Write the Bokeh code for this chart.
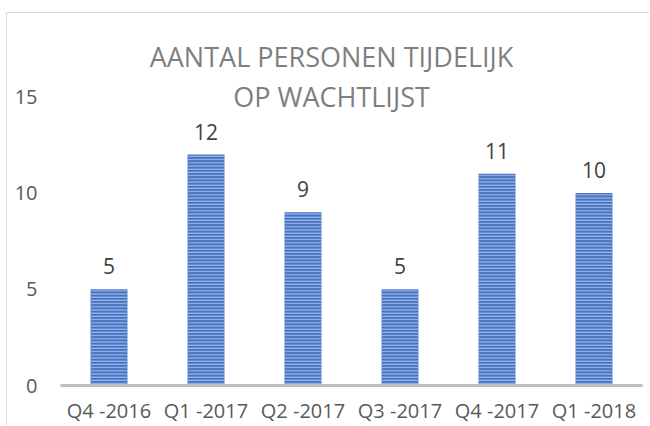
from bokeh.plotting import figure
from bokeh.models import ColumnDataSource, FixedTicker, Range1d, Label
from bokeh.core.properties import value
from bokeh.embed import file_html
from bokeh.resources import INLINE

# ---- data ----
categories = ["Q4 -2016", "Q1 -2017", "Q2 -2017", "Q3 -2017", "Q4 -2017", "Q1 -2018"]
counts = [5, 12, 9, 5, 11, 10]
count_labels = [str(v) for v in counts]
y_ticks = [0, 5, 10, 15]
title_lines = ["AANTAL PERSONEN TIJDELIJK", "OP WACHTLIJST"]

FONT = "Open Sans"

source = ColumnDataSource(dict(cat=categories, val=counts, lbl=count_labels))

p = figure(
    x_range=categories,
    y_range=Range1d(0, 19.33),
    width=643,
    height=413,
    output_backend="svg",
    toolbar_location=None,
    min_border_left=53,
    min_border_right=8,
    min_border_top=0,
    min_border_bottom=38,
)
p.styles = {
    "margin-left": "6px",
    "margin-top": "12px",
    "border-left": "1px solid #d9d9d9",
    "border-top": "1px solid #d9d9d9",
}
p.outline_line_color = None
p.background_fill_color = "white"
p.border_fill_color = "white"
p.xgrid.visible = False
p.ygrid.visible = False

p.vbar(
    x="cat", top="val", width=0.38, source=source,
    fill_color="#4472C4", line_color=None,
    hatch_pattern="horizontal_line", hatch_color="#a7bfe8",
    hatch_scale=3.2, hatch_weight=1.1,
)

p.text(
    x="cat", y="val", text="lbl", source=source,
    text_align="center", text_baseline="alphabetic", y_offset=-23,
    text_font=value(FONT), text_font_size="21px", text_color="#404040",
)

# x axis
xa = p.xaxis[0]
xa.axis_line_color = "#bfbfbf"
xa.axis_line_width = 3
xa.major_tick_line_color = None
xa.minor_tick_line_color = None
xa.major_tick_out = 0
xa.major_label_standoff = 11
xa.major_label_text_font = FONT
xa.major_label_text_font_size = "20px"
xa.major_label_text_color = "#595959"

# y axis
ya = p.yaxis[0]
ya.ticker = FixedTicker(ticks=y_ticks)
ya.axis_line_color = None
ya.major_tick_line_color = None
ya.minor_tick_line_color = None
ya.major_tick_out = 0
ya.major_label_standoff = 23
ya.major_label_text_font = FONT
ya.major_label_text_font_size = "20px"
ya.major_label_text_color = "#595959"

# title (two lines)
for txt, yy in zip(title_lines, [17.08, 15.02]):
    p.add_layout(Label(
        x=2.794, y=yy, text=txt, text_align="center", text_baseline="alphabetic",
        text_font=FONT, text_font_size="27px", text_color="#7f7f7f",
    ))

open("out.html", "w").write(file_html(p, INLINE))
